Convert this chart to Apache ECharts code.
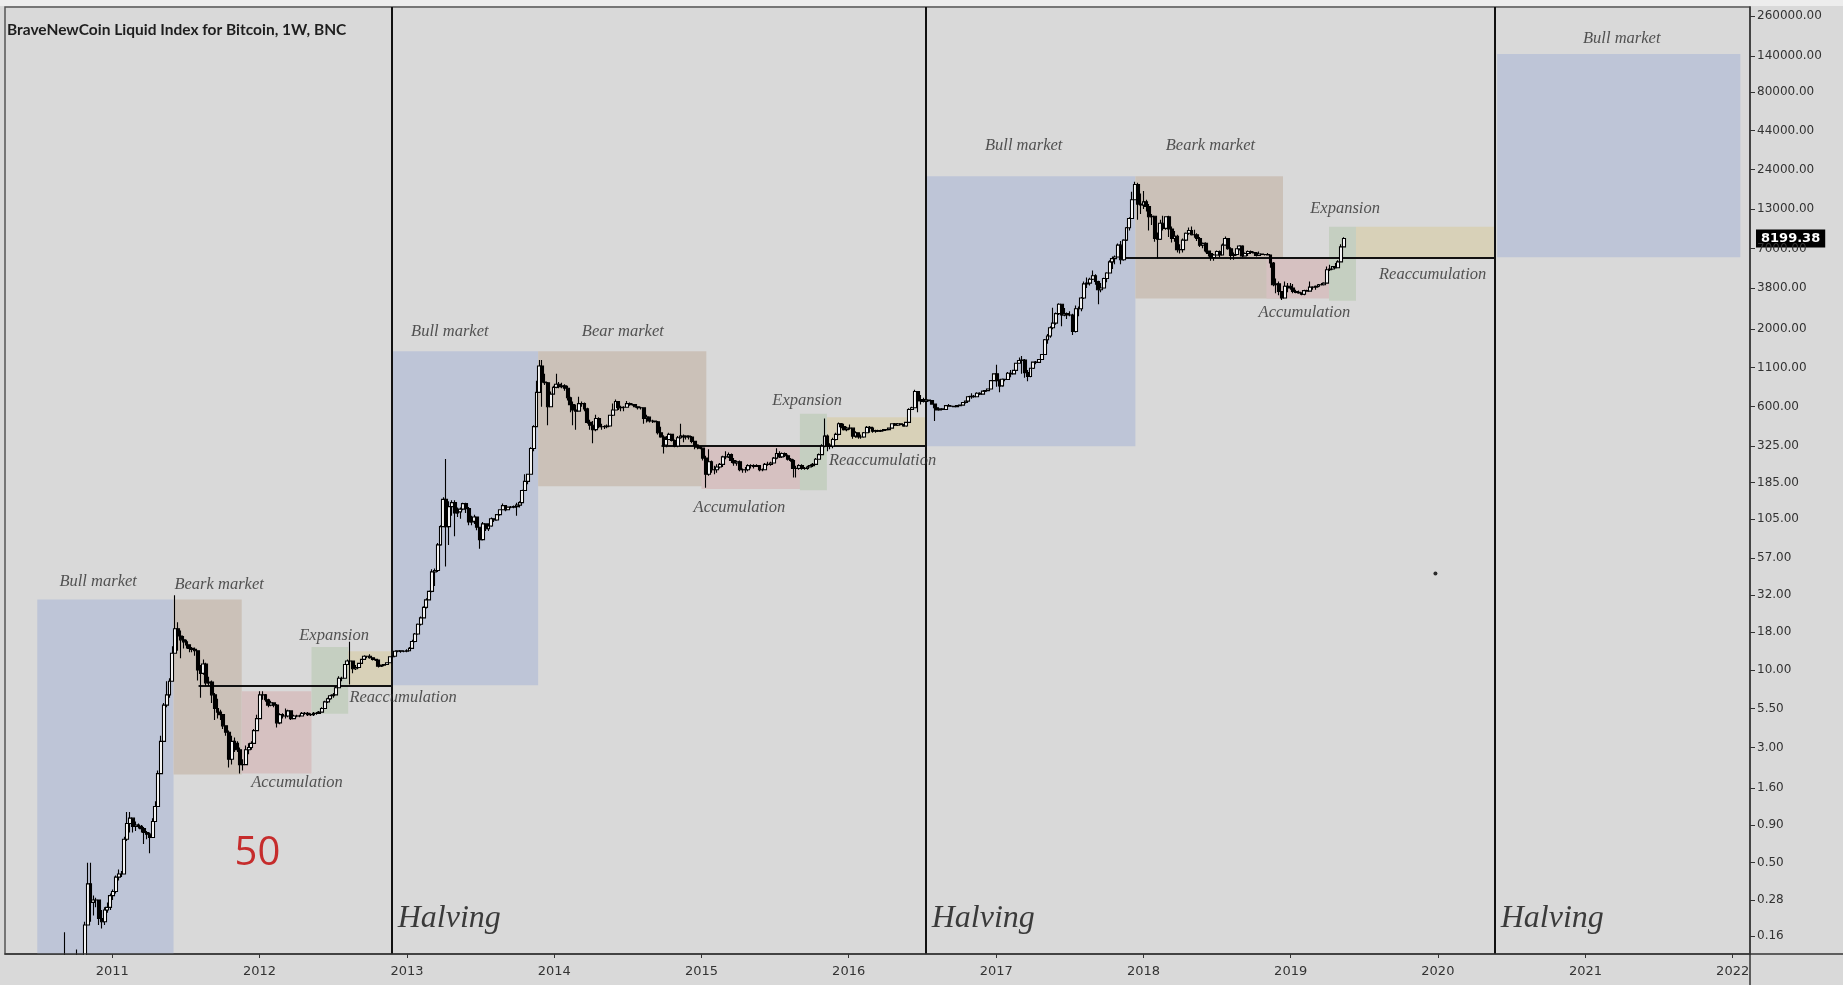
<!DOCTYPE html>
<html><head><meta charset="utf-8">
<script src="https://cdn.jsdelivr.net/npm/echarts@6/dist/echarts.min.js"></script>
<style>html,body{margin:0;padding:0;background:#d9d9d9}#c{width:1843px;height:985px}</style>
</head><body><div id="c"></div><script>
// ---------- DATA: weekly candles [close, high, low]; open = previous close ----------
const firstOpen = 0.06;
const yearStarts = ['2010-07-19','2011-01-03','2012-01-02','2013-01-07','2014-01-06','2015-01-05','2016-01-04','2017-01-02','2018-01-01','2019-01-07'];
const w2010 = [[0.07,0.09,0.05],[0.06,0.07,0.055],[0.061,0.07,0.055],[0.07,0.071,0.06],[0.066,0.07,0.064],[0.066,0.068,0.063],[0.063,0.066,0.06],[0.062,0.17,0.06],[0.062,0.064,0.06],[0.062,0.063,0.061],[0.062,0.063,0.061],[0.063,0.13,0.062],[0.1,0.105,0.062],[0.105,0.12,0.09],[0.19,0.2,0.1],[0.36,0.5,0.19],[0.27,0.5,0.2],[0.28,0.3,0.22],[0.28,0.29,0.25],[0.21,0.28,0.19],[0.2,0.24,0.18],[0.24,0.25,0.19],[0.25,0.27,0.23],[0.3,0.31,0.24]];
const w2011 = [[0.32,0.33,0.28],[0.4,0.41,0.31],[0.42,0.45,0.38],[0.42,0.44,0.4],[0.72,0.75,0.42],[0.92,1.1,0.7],[1.0,1.1,0.8],[0.88,1.0,0.8],[0.9,0.95,0.82],[0.88,0.92,0.85],[0.85,0.9,0.8],[0.8,0.87,0.67],[0.78,0.82,0.72],[0.74,0.8,0.58],[0.95,1.0,0.74],[1.2,1.3,0.95],[2.0,2.1,1.2],[3.3,3.6,2.0],[5.8,6.0,3.3],[6.8,8.4,5.6],[8.4,8.8,6.5],[13.0,14.5,8.4],[19.0,32.0,13.0],[17.0,21.0,13.5],[16.0,18.5,12.0],[15.5,17.0,14.0],[14.8,16.0,14.0],[14.0,14.8,13.2],[13.8,14.3,13.2],[13.5,14.2,12.5],[10.0,13.6,8.5],[9.5,10.8,6.5],[11.0,11.8,9.3],[8.2,11.2,7.8],[8.3,9.0,7.8],[6.8,8.5,6.0],[5.5,7.0,4.6],[5.2,6.4,4.7],[5.0,5.4,4.6],[4.2,5.0,4.0],[3.8,4.2,3.6],[2.5,3.9,2.2],[3.3,3.6,2.3],[3.2,3.5,2.8],[2.9,3.3,2.8],[2.3,3.0,2.0],[2.3,2.5,2.1],[2.9,3.1,2.3],[3.0,3.2,2.7],[3.2,3.3,2.9],[3.9,4.0,3.2],[4.7,5.0,3.9]];
const w2012 = [[6.8,7.2,4.7],[6.8,7.2,6.3],[6.3,6.9,6.1],[5.8,6.4,5.6],[6.0,6.2,5.7],[5.8,6.0,5.6],[4.4,5.9,4.1],[5.0,5.1,4.3],[4.9,5.1,4.7],[4.9,5.5,4.7],[5.3,5.4,4.8],[4.7,5.3,4.6],[4.9,5.0,4.7],[4.9,5.0,4.8],[4.9,5.0,4.8],[5.1,5.2,4.9],[5.1,5.2,5.0],[5.0,5.2,4.9],[5.0,5.1,4.9],[5.1,5.2,4.9],[5.1,5.2,5.0],[5.2,5.3,5.1],[5.5,5.6,5.2],[6.1,6.2,5.5],[6.4,6.5,6.0],[6.7,6.8,6.3],[6.8,7.0,6.5],[7.6,7.8,6.8],[8.8,9.1,7.6],[8.8,9.0,8.4],[10.9,11.0,8.8],[11.5,11.8,10.8],[11.5,15.5,8.0],[10.2,11.5,9.5],[10.4,10.8,10.0],[11.1,11.2,10.3],[11.8,11.9,11.0],[12.4,12.6,11.7],[12.4,12.5,12.0],[12.1,12.8,11.9],[11.8,12.1,11.6],[11.7,11.9,11.5],[10.6,11.7,10.4],[10.8,10.9,10.5],[10.9,11.0,10.6],[11.2,11.3,10.8],[12.3,12.4,11.2],[12.4,12.6,12.0],[13.4,13.6,12.4],[13.5,13.6,13.2],[13.4,13.6,13.1],[13.4,13.6,13.2],[13.5,13.8,13.2]];
const w2013 = [[14.0,14.3,13.4],[15.6,16.0,14.0],[17.5,17.8,15.4],[20.4,20.6,17.3],[22.5,23.0,20.0],[26.5,27.0,22.3],[29.8,30.5,26.0],[34,34.5,29.5],[46,48,33.5],[47,48.5,37],[70,72,46],[93,95,69],[142,147,92],[93,266,50],[127,138,70],[135,140,110],[115,140,80],[117,125,108],[122,125,105],[133,135,120],[123,135,115],[100,126,95],[101,110,95],[108,112,97],[92,108,88],[76,92,66],[97,100,75],[90,98,87],[94,98,87],[105,107,93],[103,106,100],[112,113,102],[121,122,110],[129,133,120],[121,129,118],[126,127,120],[126,128,124],[127,129,124],[130,135,110],[135,138,125],[163,165,134],[188,210,165],[210,212,180],[313,320,210],[440,450,300],[750,900,440],[1130,1240,750],[880,1240,600],[870,1000,840],[600,880,450],[730,760,600],[810,830,730]];
const w2014 = [[850,1000,800],[820,880,800],[830,870,800],[800,850,770],[690,830,660],[620,700,550],[570,650,450],[560,620,420],[630,700,560],[630,650,600],[580,640,560],[470,590,460],[450,490,420],[420,480,340],[500,530,410],[440,510,430],[440,460,420],[440,450,425],[445,455,430],[525,530,440],[570,630,520],[650,670,570],[590,655,570],[595,610,560],[595,605,560],[630,655,590],[620,640,610],[620,630,610],[600,625,590],[590,600,575],[590,600,575],[500,595,460],[510,530,470],[480,515,470],[480,490,465],[475,485,470],[400,480,390],[375,440,370],[330,385,290],[360,380,320],[390,400,360],[355,390,350],[325,360,320],[370,380,320],[380,460,365],[375,390,345],[380,385,360],[375,385,360],[350,380,340],[330,350,310],[320,335,310],[315,325,310]];
const w2015 = [[270,300,260],[210,280,170],[255,310,205],[225,260,215],[225,240,210],[235,245,215],[245,250,230],[275,280,235],[275,300,265],[285,295,270],[260,290,250],[250,270,240],[255,260,240],[225,260,220],[225,230,215],[225,235,215],[240,245,220],[240,245,230],[237,245,230],[240,245,235],[225,240,220],[225,230,220],[245,250,225],[245,255,240],[250,255,240],[270,275,250],[290,315,265],[275,300,270],[290,295,270],[280,295,275],[265,285,260],[260,270,255],[230,265,200],[230,240,200],[240,245,225],[230,245,225],[230,235,225],[235,240,225],[240,245,235],[245,250,235],[265,270,245],[285,290,265],[325,335,285],[380,500,320],[330,390,300],[325,340,310],[360,370,315],[390,400,355],[460,470,385],[440,465,430],[420,460,415],[430,440,410]];
const w2016 = [[430,455,420],[380,435,365],[400,410,370],[375,395,365],[375,390,365],[400,405,370],[435,445,400],[430,445,400],[410,440,400],[415,420,400],[410,420,405],[415,420,405],[420,425,410],[420,425,415],[430,432,420],[460,462,428],[450,465,445],[460,465,445],[455,462,450],[445,455,440],[470,475,440],[575,585,470],[590,600,570],[760,780,590],[660,760,550],[670,720,620],[650,690,640],[665,680,650],[660,670,650],[625,660,620],[590,625,480],[570,595,565],[580,585,565],[575,585,570],[610,615,570],[605,625,600],[605,612,600],[600,608,595],[610,615,595],[615,620,605],[640,645,615],[655,660,630],[700,710,650],[705,740,680],[700,720,690],[740,750,695],[730,750,720],[765,770,725],[770,775,755],[790,795,765],[900,910,790],[1000,1010,890]];
const w2017 = [[900,1150,820],[830,920,750],[920,930,820],[915,925,890],[1010,1030,915],[1000,1060,950],[1055,1060,990],[1180,1190,1050],[1230,1290,1180],[1240,1320,1000],[1020,1260,940],[960,1060,890],[1090,1100,950],[1200,1210,1080],[1195,1220,1160],[1250,1260,1190],[1350,1360,1240],[1700,1720,1340],[1800,1860,1600],[2050,2100,1750],[2200,2800,2000],[2550,2600,2150],[2950,3000,2500],[2500,2950,2100],[2550,2780,2450],[2500,2600,2350],[2500,2650,2450],[1930,2550,1830],[2750,2900,1900],[2750,2850,2450],[3250,3300,2650],[4050,4200,3200],[4100,4480,3800],[4350,4450,3950],[4600,4980,4300],[4200,4700,4000],[3700,4250,2950],[3800,4100,3550],[4400,4450,3800],[4800,4850,4150],[5700,5850,4800],[6000,6200,5100],[6150,6300,5500],[7400,7600,6100],[5900,7900,5500],[8000,8100,5800],[9700,9800,7900],[11200,11400,9300],[15000,17000,11200],[19000,19800,15000],[14000,19500,11000],[13800,16500,12000]];
const w2018 = [[14500,17200,13000],[13500,15000,12500],[11500,14000,9300],[11600,12000,10100],[8200,11700,7800],[8100,9000,6000],[10400,11000,8000],[9600,11700,9300],[11500,11600,9400],[9500,11700,8400],[8200,9900,7700],[8500,9200,7800],[6900,8700,6600],[6900,7500,6500],[8000,8200,6600],[8900,9000,7900],[9300,9750,8700],[8700,9900,8600],[8700,9400,8300],[8200,8900,7900],[7400,8400,7200],[7600,7700,7050],[6750,7750,6600],[6500,6800,6200],[6100,6800,5800],[6350,6450,5800],[6700,6800,6300],[6350,6800,6100],[7400,7600,6300],[8200,8450,7400],[7000,8200,6900],[6300,7150,5900],[6400,6600,5900],[7000,7050,6300],[7300,7400,6800],[6250,7400,6150],[6500,6600,6200],[6700,6800,6250],[6600,6800,6450],[6550,6700,6500],[6300,6650,6200],[6450,6700,6350],[6400,6500,6350],[6400,6450,6300],[6350,6550,6300],[5600,6400,5200],[4000,5700,3900],[4050,4400,3500],[3600,4200,3400],[3250,3600,3150],[3900,4200,3250],[3900,4100,3550],[3800,4100,3700]];
const w2019 = [[3600,4050,3500],[3550,3700,3500],[3520,3650,3480],[3450,3550,3400],[3650,3700,3400],[3620,3700,3580],[3850,4200,3600],[3850,3900,3700],[3900,3950,3700],[4000,4050,3850],[4000,4100,3950],[4100,4150,3950],[5050,5300,4100],[5100,5450,4950],[5300,5350,5050],[5200,5600,5150],[5700,5850,5200],[7200,7500,5700],[8199.38,8350,7200]];
const yearWeeks = [w2010,w2011,w2012,w2013,w2014,w2015,w2016,w2017,w2018,w2019];
const lastPrice = 8199.38;
const yTickValues = [0.16,0.28,0.5,0.9,1.6,3,5.5,10,18,32,57,105,185,325,600,1100,2000,3800,7000,13000,24000,44000,80000,140000,260000];
const halvingDates = ['2012-11-24','2016-07-10','2020-05-21'];
// phase boxes: [kind, from, to, low, high]
const phaseBoxes = [
 ['bull','2010-06-29','2011-06-02',0.121,30],
 ['bear','2011-06-02','2011-11-18',1.97,30],
 ['accum','2011-11-18','2012-05-09',2.0,7.2],
 ['exp','2012-05-09','2012-08-08',5.07,14.3],
 ['reacc','2012-08-08','2012-11-24',7.8,13.4],
 ['bull','2012-11-26','2013-11-22',7.9,1420],
 ['bear','2013-11-22','2015-01-13',174,1420],
 ['accum','2015-01-01','2015-09-08',167,329],
 ['exp','2015-09-02','2015-11-08',164,538],
 ['reacc','2015-11-08','2016-07-10',329,510],
 ['bull','2016-07-12','2017-12-12',325,21600],
 ['bear','2017-12-12','2018-12-13',3230,21600],
 ['accum','2018-11-02','2019-04-06',3230,6120],
 ['exp','2019-04-06','2019-06-12',3120,9840],
 ['reacc','2019-06-12','2020-05-21',6120,9840],
 ['bull','2020-05-27','2022-01-20',6120,144500]
];
// support levels: [from, to, level]
const supportLines = [['2011-08-03','2012-11-24',7.8],['2014-09-24','2016-07-10',329],['2017-11-12','2020-05-21',6120]];
// phase captions: [text, date, value]
const captions = [
 ['Bull market','2010-11-27',39.5],['Beark market','2011-09-23',37.9],['Accumulation','2012-04-03',1.75],['Expansion','2012-07-04',17],['Reaccumulation','2012-12-22',6.47],
 ['Bull market','2013-04-17',1936],['Bear market','2014-06-20',1936],['Accumulation','2015-04-05',125],['Expansion','2015-09-20',659],['Reaccumulation','2016-03-25',259],
 ['Bull market','2017-03-10',34750],['Beark market','2018-06-16',34750],['Accumulation','2019-02-04',2600],['Expansion','2019-05-16',12970],['Reaccumulation','2019-12-19',4660],
 ['Bull market','2021-04-01',183000]
];
const halvingText = 'Halving';
const noteText = ['50','2011-12-27',0.58];
const dotPoint = ['2019-12-26',44.9];

// ---------- build ----------
const DAY = 86400000;
const T = s => Date.parse(s + 'T00:00:00Z');
const candles = [];
let prev = firstOpen;
yearWeeks.forEach((arr, k) => {
  const t0 = T(yearStarts[k]);
  arr.forEach((w, i) => {
    const c = w[0], h = w[1], l = w[2];
    candles.push([t0 + i * 7 * DAY, prev, c, Math.min(l, prev, c), Math.max(h, prev, c)]);
    prev = c;
  });
});
const Y_MIN = 0.121, Y_MAX = 300000;
const phaseColor = {bull:'#bec5d7', bear:'#cbc1b8', accum:'#d6c1c1', exp:'#c5cfc1', reacc:'#d8d1b8'};
const serif = 'Liberation Serif';

const chart = echarts.init(document.getElementById('c'), null, {renderer:'canvas'});
chart.setOption({
  animation: false,
  backgroundColor: '#d9d9d9',
  title: {text: 'BraveNewCoin Liquid Index for Bitcoin, 1W, BNC', left: 7, top: 22, padding: 0,
    textStyle: {fontFamily: 'Lato', fontWeight: 'bold', fontSize: 15.5, color: '#1e1e1e'}},
  grid: {left: 5, right: 93, top: 7, bottom: 31, show: true, borderColor: '#555', borderWidth: 1.5, backgroundColor: 'transparent'},
  xAxis: {type: 'time', min: T('2010-04-10'), max: T('2022-02-13'), z: 20,
    minInterval: 365 * DAY, maxInterval: 366 * DAY, splitNumber: 12,
    axisLine: {lineStyle: {color: '#333', width: 1.5}},
    axisTick: {show: true, length: 4, lineStyle: {color: '#333'}},
    axisLabel: {formatter: v => String(new Date(v).getUTCFullYear()),
      color: '#333', fontFamily: 'DejaVu Sans', fontSize: 13, margin: 11},
    splitLine: {show: false}},
  yAxis: {type: 'log', logBase: 10, position: 'right', min: Y_MIN, max: Y_MAX, z: 20,
    axisLine: {show: true, lineStyle: {color: '#333', width: 1.5}},
    axisTick: {show: true, inside: false, length: 5, lineStyle: {color: '#333'}, customValues: yTickValues},
    axisLabel: {customValues: yTickValues, formatter: v => Number(v).toFixed(2), color: '#333', fontFamily: 'DejaVu Sans', fontSize: 12, margin: 7},
    splitLine: {show: false}},
  series: [
    {name: 'phases', type: 'line', data: [], z: 1, silent: true,
      markArea: {silent: true, data: phaseBoxes.map(p => [
        {coord: [T(p[1]), p[3]], itemStyle: {color: phaseColor[p[0]], opacity: 1}},
        {coord: [T(p[2]), p[4]]}])}},
    {name: 'levels', type: 'line', data: [], z: 3, silent: true,
      markLine: {silent: true, symbol: ['none','none'], label: {show: false},
        lineStyle: {color: '#111', width: 2, type: 'solid'},
        data: supportLines.map(s => [{coord: [T(s[0]), s[2]]}, {coord: [T(s[1]), s[2]]}])
          .concat(halvingDates.map(d => ({xAxis: T(d)})))}},
    {name: 'BLX', type: 'candlestick', data: candles, z: 5, barWidth: 3.4,
      encode: {x: 0, y: [1, 2, 3, 4]},
      itemStyle: {color: '#ffffff', color0: '#000000', borderColor: '#000000', borderColor0: '#000000', borderWidth: 1.1}},
    {name: 'lastPrice', type: 'line', data: [], z: 30, silent: true,
      markLine: {silent: true, symbol: ['none','none'], lineStyle: {color: 'rgba(0,0,0,0)', width: 0},
        label: {show: true, position: 'end', distance: 6, formatter: String(lastPrice), backgroundColor: '#000', color: '#fff',
          fontFamily: 'DejaVu Sans', fontWeight: 'bold', fontSize: 13, padding: [3, 5, 2, 5], opacity: 1},
        data: [{yAxis: lastPrice}]}},
    {name: 'notes', type: 'scatter', z: 8, silent: true, symbolSize: 0,
      data: captions.map(c => ({value: [T(c[1]), c[2]], label: {show: true, position: 'inside', formatter: c[0],
          fontFamily: serif, fontStyle: 'italic', fontSize: 16.5, color: '#2e2e2e'}}))
        .concat(halvingDates.map(d => ({value: [T(d), 0.21], label: {show: true, position: 'right', distance: 6, formatter: halvingText,
          fontFamily: serif, fontStyle: 'italic', fontSize: 32, color: '#111'}})))
        .concat([{value: [T(noteText[1]), noteText[2]], label: {show: true, position: 'inside', formatter: noteText[0],
          fontFamily: 'Open Sans', fontSize: 40, color: '#c00000'}}])
        .concat([{value: [T(dotPoint[0]), dotPoint[1]], symbolSize: 4, itemStyle: {color: '#000'}}])}
  ],
  graphic: [
    {type: 'rect', shape: {x: 0, y: 0, width: 1843, height: 6}, style: {fill: '#ededed'}, z: 100},
    {type: 'rect', shape: {x: 0, y: 955, width: 1749, height: 30}, style: {fill: '#d9d9d9'}, z: 10},
    {type: 'line', shape: {x1: 1750, y1: 954, x2: 1750, y2: 985}, style: {stroke: '#333', lineWidth: 1.5}, z: 100},
    {type: 'line', shape: {x1: 1750, y1: 954, x2: 1843, y2: 954}, style: {stroke: '#333', lineWidth: 1.5}, z: 100}
  ]
});
</script></body></html>
